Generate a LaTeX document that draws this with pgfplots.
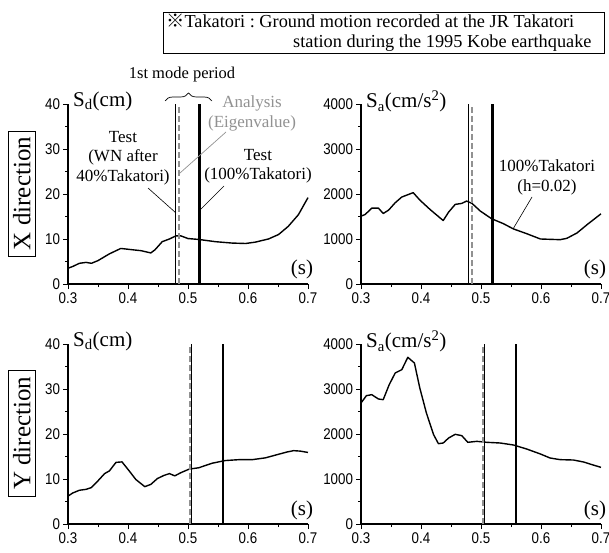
\documentclass[border=0pt]{standalone}
\usepackage{pgfplots}
\pgfplotsset{compat=1.18}
\usetikzlibrary{decorations.pathreplacing}
\usepackage{fontspec}
\setmainfont{Liberation Serif}
\setsansfont{Liberation Sans}
\newfontfamily\cjk{Noto Sans CJK JP}

\definecolor{anagray}{RGB}{145,145,145}

\pgfplotsset{
  specax/.style={
    scale only axis, width=240pt, height=180pt, anchor=south west,
    axis x line=bottom, axis y line=left,
    axis line style={-, line width=1.1pt, black},
    xmin=0.3, xmax=0.7, ymin=0,
    xtick={0.3,0.4,0.5,0.6,0.7},
    minor x tick num=1, minor y tick num=1,
    tick align=outside, major tick length=5pt, minor tick length=3pt,
    every tick/.style={line width=0.8pt, black},
    ticklabel style={font=\fontsize{15.5}{15.5}\selectfont\sffamily, xscale=0.86},
    /pgf/number format/assume math mode=true,
    xticklabel style={/pgf/number format/.cd, fixed, fixed zerofill, precision=1},
    yticklabel style={/pgf/number format/1000 sep={}},
    scaled y ticks=false,
    clip=false,
  },
  spec/.style={black, line width=1.4pt, line join=round, no markers},
  testwn/.style={black, line width=0.9pt, no markers},
  eigen/.style={anagray, line width=2.2pt, dash pattern=on 6pt off 3pt, no markers},
  test100/.style={black, line width=2.4pt, no markers},
}

\newcommand{\annfont}{\fontsize{17}{19.5}\selectfont}
\newcommand{\labfont}{\fontsize{21}{24}\selectfont}

\begin{document}
\begin{tikzpicture}
\useasboundingbox (0pt,0pt) rectangle (609pt,552pt);

% ---------------- X direction, displacement spectrum
\begin{axis}[specax, at={(68pt,268pt)}, ymax=40, ytick={0,10,20,30,40}]
\addplot[spec] coordinates {
(0.300,3.5) (0.308,3.9) (0.319,4.6) (0.330,4.8) (0.339,4.6) (0.350,5.2)
(0.369,6.7) (0.388,7.9) (0.408,7.6) (0.422,7.4) (0.438,6.9) (0.445,7.6)
(0.457,9.4) (0.469,10.0) (0.480,10.7) (0.488,10.7) (0.500,10.1) (0.518,9.9)
(0.546,9.4) (0.573,9.1) (0.596,9.0) (0.612,9.3) (0.634,10.0) (0.651,11.0)
(0.667,12.8) (0.684,15.4) (0.700,19.2)};
\addplot[testwn] coordinates {(0.479,0) (0.479,40)};
\addplot[eigen] coordinates {(0.485,0) (0.485,40)};
\addplot[test100] coordinates {(0.519,0) (0.519,40)};
\end{axis}

% ---------------- X direction, acceleration spectrum
\begin{axis}[specax, at={(361pt,268pt)}, ymax=4000, ytick={0,1000,2000,3000,4000}]
\addplot[spec] coordinates {
(0.300,1507) (0.307,1545) (0.318,1687) (0.329,1687) (0.337,1567) (0.346,1642)
(0.357,1806) (0.368,1933) (0.387,2030) (0.398,1866) (0.415,1657) (0.437,1410)
(0.446,1597) (0.457,1769) (0.468,1791) (0.476,1843) (0.485,1791) (0.499,1619)
(0.518,1448) (0.537,1343) (0.554,1224) (0.576,1119) (0.599,1000) (0.632,985)
(0.643,1015) (0.660,1134) (0.677,1321) (0.700,1560)};
\addplot[testwn] coordinates {(0.479,0) (0.479,4000)};
\addplot[eigen] coordinates {(0.485,0) (0.485,4000)};
\addplot[test100] coordinates {(0.519,0) (0.519,4000)};
\end{axis}

% ---------------- Y direction, displacement spectrum
\begin{axis}[specax, at={(68pt,28pt)}, ymax=40, ytick={0,10,20,30,40}]
\addplot[spec] coordinates {
(0.300,6.2) (0.308,6.9) (0.319,7.5) (0.330,7.7) (0.339,8.1) (0.350,9.6)
(0.361,11.2) (0.369,11.8) (0.380,13.7) (0.390,13.8) (0.402,11.8) (0.413,9.9)
(0.428,8.3) (0.438,8.8) (0.449,10.1) (0.460,10.8) (0.469,11.2) (0.478,10.7)
(0.488,11.4) (0.502,12.2) (0.518,12.5) (0.540,13.5) (0.562,14.1) (0.585,14.3)
(0.607,14.3) (0.629,14.7) (0.651,15.5) (0.665,16.0) (0.676,16.3) (0.687,16.2)
(0.700,15.9)};
\addplot[eigen] coordinates {(0.504,0) (0.504,40)};
\addplot[testwn] coordinates {(0.506,0) (0.506,40)};
\addplot[test100] coordinates {(0.558,0) (0.558,40)};
\end{axis}

% ---------------- Y direction, acceleration spectrum
\begin{axis}[specax, at={(361pt,28pt)}, ymax=4000, ytick={0,1000,2000,3000,4000}]
\addplot[spec] coordinates {
(0.300,2689) (0.309,2852) (0.318,2874) (0.329,2778) (0.337,2763) (0.347,3096)
(0.357,3356) (0.368,3430) (0.378,3704) (0.389,3578) (0.398,3022) (0.409,2467)
(0.421,1985) (0.429,1785) (0.437,1800) (0.446,1911) (0.457,1993) (0.468,1963)
(0.478,1815) (0.493,1837) (0.510,1815) (0.532,1800) (0.554,1756) (0.576,1667)
(0.599,1556) (0.615,1467) (0.632,1430) (0.654,1422) (0.671,1378) (0.685,1319)
(0.700,1259)};
\addplot[eigen] coordinates {(0.504,0) (0.504,4000)};
\addplot[testwn] coordinates {(0.506,0) (0.506,4000)};
\addplot[test100] coordinates {(0.558,0) (0.558,4000)};
\end{axis}

% ---------------- note box
\draw[line width=0.8pt] (163pt,498.7pt) rectangle (604pt,539.3pt);
\node[anchor=base west, inner sep=0pt, font=\fontsize{18.3}{20}\selectfont]
  at (166pt,524.7pt) {{\cjk ※}Takatori\ :\ Ground motion recorded at the JR Takatori};
\node[anchor=base west, inner sep=0pt, font=\fontsize{18.3}{20}\selectfont]
  at (293pt,504.7pt) {station during the 1995 Kobe earthquake};

% ---------------- mode period bracket
\node[font=\fontsize{16.5}{18}\selectfont] at (182pt,477pt) {1st mode period};
\draw[line width=0.7pt, decorate, decoration={brace, amplitude=8pt}]
  (165pt,451pt) -- (212pt,451pt);

% ---------------- axis titles
\node[anchor=west, inner sep=0pt, font=\labfont] at (73pt,450.5pt) {S\textsubscript{d}(cm)};
\node[anchor=west, inner sep=0pt, font=\labfont] at (366pt,450.5pt) {S\textsubscript{a}(cm/s\textsuperscript{2})};
\node[anchor=west, inner sep=0pt, font=\labfont] at (73pt,210.5pt) {S\textsubscript{d}(cm)};
\node[anchor=west, inner sep=0pt, font=\labfont] at (366pt,210.5pt) {S\textsubscript{a}(cm/s\textsuperscript{2})};
\foreach \px/\py in {302/283, 595/283, 302/42, 595/42}
  \node[font=\labfont] at (\px pt,\py pt) {(s)};

% ---------------- row labels
\node[draw, line width=0.8pt, rotate=90, inner xsep=6pt, inner ysep=4.5pt,
      font=\fontsize{25}{28}\selectfont] at (21.7pt,358.5pt) {X direction};
\node[draw, line width=0.8pt, rotate=90, inner xsep=6pt, inner ysep=4.5pt,
      font=\fontsize{25}{28}\selectfont] at (21.7pt,118.6pt) {Y direction};

% ---------------- annotations
\node[align=center, font=\annfont] at (123pt,394pt) {Test\\(WN after\\40\%Takatori)};
\node[align=center, font=\annfont, text=anagray] at (252pt,438.5pt) {Analysis\\(Eigenvalue)};
\node[align=center, font=\annfont] at (258pt,386pt) {Test\\(100\%Takatori)};
\node[align=center, font=\annfont] at (547pt,374.5pt) {100\%Takatori\\(h=0.02)};
\draw[anagray, line width=0.7pt] (226pt,420pt) -- (180pt,379pt);
\draw[line width=0.6pt] (148pt,364pt) -- (176pt,339pt);
\draw[line width=0.6pt] (224pt,366pt) -- (200pt,342pt);
\draw[line width=0.6pt] (532pt,355pt) -- (513pt,323pt);
\end{tikzpicture}
\end{document}
